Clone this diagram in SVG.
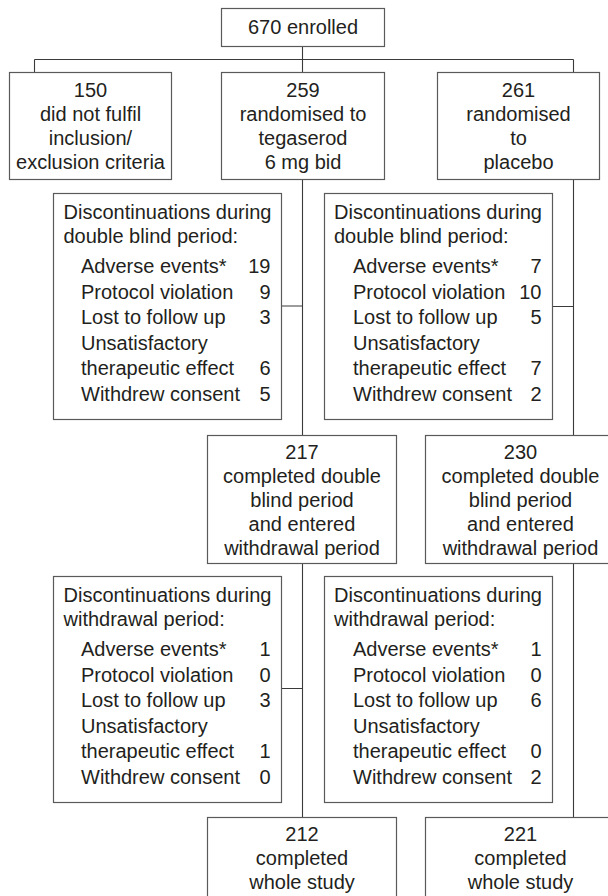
<svg xmlns="http://www.w3.org/2000/svg" width="608" height="896" viewBox="0 0 608 896">
<style>
  .box { fill: #ffffff; stroke: #5a5a5a; stroke-width: 1.2; }
  .conn { fill: none; stroke: #3a3a3a; stroke-width: 1.1; }
  text { font-family: "Liberation Sans", Arial, sans-serif; font-size: 20px; fill: #231f20; }
  .c { text-anchor: middle; }
  .r { text-anchor: end; }
</style>
<rect x="0" y="0" width="608" height="896" fill="#ffffff"/>
<g id="connectors">
  <path class="conn" d="M302.5 46.5 V59.5 M34.5 59.5 H573.5 M34.5 59.5 V72.5 M302.5 59.5 V72.5 M573.5 59.5 V72.5"/>
  <path class="conn" d="M302.5 179.5 V435.5 M281.5 306 H302.5"/>
  <path class="conn" d="M573.5 179.5 V435.5 M552.5 306.5 H573.5"/>
  <path class="conn" d="M302.5 563.5 V817.5 M281.5 688.5 H302.5"/>
  <path class="conn" d="M573.5 563.5 V817.5"/>
</g>
<g id="enrolled">
  <rect class="box" x="221.5" y="8.5" width="163" height="38"/>
  <text class="c" x="303" y="33.5">670 enrolled</text>
</g>
<g id="excluded">
  <rect class="box" x="9.5" y="72.5" width="162" height="107"/>
  <text class="c" x="90.5" y="96.5">150</text>
  <text class="c" x="90.5" y="120.5">did not fulfil</text>
  <text class="c" x="90.5" y="144.5">inclusion/</text>
  <text class="c" x="90.5" y="168.5">exclusion criteria</text>
</g>
<g id="tegaserod">
  <rect class="box" x="221.5" y="72.5" width="163" height="107"/>
  <text class="c" x="303" y="96.5">259</text>
  <text class="c" x="303" y="120.5">randomised to</text>
  <text class="c" x="303" y="144.5">tegaserod</text>
  <text class="c" x="303" y="168.5">6 mg bid</text>
</g>
<g id="placebo">
  <rect class="box" x="437.5" y="72.5" width="162" height="107"/>
  <text class="c" x="518.5" y="96.5">261</text>
  <text class="c" x="518.5" y="120.5">randomised</text>
  <text class="c" x="518.5" y="144.5">to</text>
  <text class="c" x="518.5" y="168.5">placebo</text>
</g>
<g id="disc-db-tegaserod">
  <rect class="box" x="53.5" y="193.5" width="228" height="226"/>
  <text x="63.5" y="218.5">Discontinuations during</text>
  <text x="63.5" y="243">double blind period:</text>
  <text x="81" y="273">Adverse events*</text><text class="r" x="270.5" y="273">19</text>
  <text x="81" y="298.5">Protocol violation</text><text class="r" x="270.5" y="298.5">9</text>
  <text x="81" y="324">Lost to follow up</text><text class="r" x="270.5" y="324">3</text>
  <text x="81" y="349.5">Unsatisfactory</text>
  <text x="81" y="375">therapeutic effect</text><text class="r" x="270.5" y="375">6</text>
  <text x="81" y="400.5">Withdrew consent</text><text class="r" x="270.5" y="400.5">5</text>
</g>
<g id="disc-db-placebo">
  <rect class="box" x="324.5" y="193.5" width="228" height="226"/>
  <text x="334" y="218.5">Discontinuations during</text>
  <text x="334" y="243">double blind period:</text>
  <text x="353" y="273">Adverse events*</text><text class="r" x="541.5" y="273">7</text>
  <text x="353" y="298.5">Protocol violation</text><text class="r" x="541.5" y="298.5">10</text>
  <text x="353" y="324">Lost to follow up</text><text class="r" x="541.5" y="324">5</text>
  <text x="353" y="349.5">Unsatisfactory</text>
  <text x="353" y="375">therapeutic effect</text><text class="r" x="541.5" y="375">7</text>
  <text x="353" y="400.5">Withdrew consent</text><text class="r" x="541.5" y="400.5">2</text>
</g>
<g id="completed-db-tegaserod">
  <rect class="box" x="207.5" y="435.5" width="189" height="128"/>
  <text class="c" x="302" y="458.5">217</text>
  <text class="c" x="302" y="482.5">completed double</text>
  <text class="c" x="302" y="506.5">blind period</text>
  <text class="c" x="302" y="530.5">and entered</text>
  <text class="c" x="302" y="554.5">withdrawal period</text>
</g>
<g id="completed-db-placebo">
  <rect class="box" x="425.5" y="435.5" width="190" height="128"/>
  <text class="c" x="520.5" y="458.5">230</text>
  <text class="c" x="520.5" y="482.5">completed double</text>
  <text class="c" x="520.5" y="506.5">blind period</text>
  <text class="c" x="520.5" y="530.5">and entered</text>
  <text class="c" x="520.5" y="554.5">withdrawal period</text>
</g>
<g id="disc-wd-tegaserod">
  <rect class="box" x="53.5" y="576.5" width="228" height="226"/>
  <text x="63.5" y="601.5">Discontinuations during</text>
  <text x="63.5" y="626">withdrawal period:</text>
  <text x="81" y="656">Adverse events*</text><text class="r" x="270.5" y="656">1</text>
  <text x="81" y="681.5">Protocol violation</text><text class="r" x="270.5" y="681.5">0</text>
  <text x="81" y="707">Lost to follow up</text><text class="r" x="270.5" y="707">3</text>
  <text x="81" y="732.5">Unsatisfactory</text>
  <text x="81" y="758">therapeutic effect</text><text class="r" x="270.5" y="758">1</text>
  <text x="81" y="783.5">Withdrew consent</text><text class="r" x="270.5" y="783.5">0</text>
</g>
<g id="disc-wd-placebo">
  <rect class="box" x="324.5" y="576.5" width="228" height="226"/>
  <text x="334" y="601.5">Discontinuations during</text>
  <text x="334" y="626">withdrawal period:</text>
  <text x="353" y="656">Adverse events*</text><text class="r" x="541.5" y="656">1</text>
  <text x="353" y="681.5">Protocol violation</text><text class="r" x="541.5" y="681.5">0</text>
  <text x="353" y="707">Lost to follow up</text><text class="r" x="541.5" y="707">6</text>
  <text x="353" y="732.5">Unsatisfactory</text>
  <text x="353" y="758">therapeutic effect</text><text class="r" x="541.5" y="758">0</text>
  <text x="353" y="783.5">Withdrew consent</text><text class="r" x="541.5" y="783.5">2</text>
</g>
<g id="completed-study-tegaserod">
  <rect class="box" x="207.5" y="817.5" width="189" height="100"/>
  <text class="c" x="302" y="840.5">212</text>
  <text class="c" x="302" y="864.5">completed</text>
  <text class="c" x="302" y="888.5">whole study</text>
</g>
<g id="completed-study-placebo">
  <rect class="box" x="425.5" y="817.5" width="190" height="100"/>
  <text class="c" x="520.5" y="840.5">221</text>
  <text class="c" x="520.5" y="864.5">completed</text>
  <text class="c" x="520.5" y="888.5">whole study</text>
</g>
</svg>
